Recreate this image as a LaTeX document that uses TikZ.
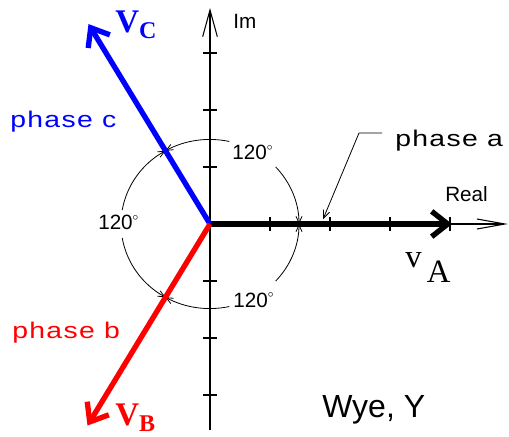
\documentclass[tikz,border=0pt]{standalone}
\usepackage{fontspec}
\setmainfont{Liberation Serif}
\newfontfamily\cadfont{Liberation Sans}
\newfontfamily\phasefont[FakeStretch=1.25,LetterSpace=6]{Liberation Sans}
\usepackage{tikz}
\usetikzlibrary{arrows.meta}
\definecolor{phaseb}{RGB}{255,0,0}
\definecolor{phasec}{RGB}{0,0,255}
\newcommand{\degr}{\raisebox{7pt}{$\scriptscriptstyle\circ$}}

\begin{document}
\begin{tikzpicture}[x=0.75pt,y=0.7125pt,
  axisline/.style={line width=0.8pt},
  phasor/.style={line width=4pt,-{Straight Barb[length=12pt,width=19pt]}},
  arcend/.style={line width=0.6pt,-{Straight Barb[length=5pt,width=4.5pt]}},
  smalltxt/.style={font=\cadfont\fontsize{15.5}{16}\selectfont,inner sep=0pt,anchor=base west},
  phasetxt/.style={font=\phasefont\fontsize{17}{18}\selectfont,inner sep=0pt,anchor=base west},
  bigV/.style={font=\fontsize{24.5}{26}\selectfont,inner sep=0pt,anchor=base west}]
\useasboundingbox (-210,-224.2) rectangle (299,235.8);
\coordinate (O) at (0,0);
\coordinate (A) at (242,0);
\coordinate (C) at (120:243);
\coordinate (B) at (240:245);
% axes
\draw[axisline,-{Straight Barb[length=20pt,width=11pt]}] (0,-217) -- (0,227.4);
\draw[axisline,-{Straight Barb[length=21pt,width=7.5pt]}] (O) -- (298,0);
\foreach \t in {60,120,180,240}
  \draw[axisline] (\t,-7.4) -- (\t,7.4);
\foreach \t in {-180,-120,-60,60,120,180}
  \draw[axisline] (-7,\t) -- (7,\t);
% 120 degree arcs
\foreach \a/\g in {0/17.5,120/9.5,240/17.5}{
  \draw[arcend] ({\a+60+\g}:89) arc[start angle=\a+60+\g,end angle=\a+120,radius=89];
  \draw[arcend] ({\a+60-\g}:89) arc[start angle=\a+60-\g,end angle=\a,radius=89];
}
% phasors
\draw[phasor] (O) -- (A);
\draw[phasor,phasec] (O) -- (C);
\draw[phasor,phaseb] (O) -- (B);
% labels
\node[smalltxt] (im) at (23,206.3) {Im};
\node[smalltxt] (real) at (235,23.2) {Real};
\node[smalltxt] (angab) at (22,67.4) {120\degr};
\node[smalltxt] (angbc) at (-112,-6.3) {120\degr};
\node[smalltxt] (angca) at (23,-87.4) {120\degr};
\node[phasetxt] (pha) at (185,82.1) {phase a};
\node[phasetxt,phaseb] (phb) at (-198,-120) {phase b};
\node[phasetxt,phasec] (phc) at (-200,101.1) {phase c};
\coordinate (ldr) at (172,95.8);
\coordinate (pa) at (113,5);
\draw[line width=0.6pt,-{Straight Barb[length=6pt,width=5pt]}] (ldr) -- ++(-23,0) -- (pa);
\node[bigV] (va) at (195,-46.3) {v\hspace{4pt}\raisebox{-11.25pt}{A}};
\node[bigV,phasec,font=\bfseries\fontsize{24.75}{26}\selectfont] (vc) at (-95,202.1)
  {V\raisebox{-4.5pt}{\fontsize{18}{18}\selectfont C}};
\node[bigV,phaseb,font=\bfseries\fontsize{24.75}{26}\selectfont] (vb) at (-95,-212.6)
  {V\raisebox{-4.5pt}{\fontsize{18}{18}\selectfont B}};
\node[font=\cadfont\fontsize{24}{26}\selectfont,inner sep=0pt,anchor=base west] (wye) at (112,-203.2) {Wye, Y};
\end{tikzpicture}
\end{document}
